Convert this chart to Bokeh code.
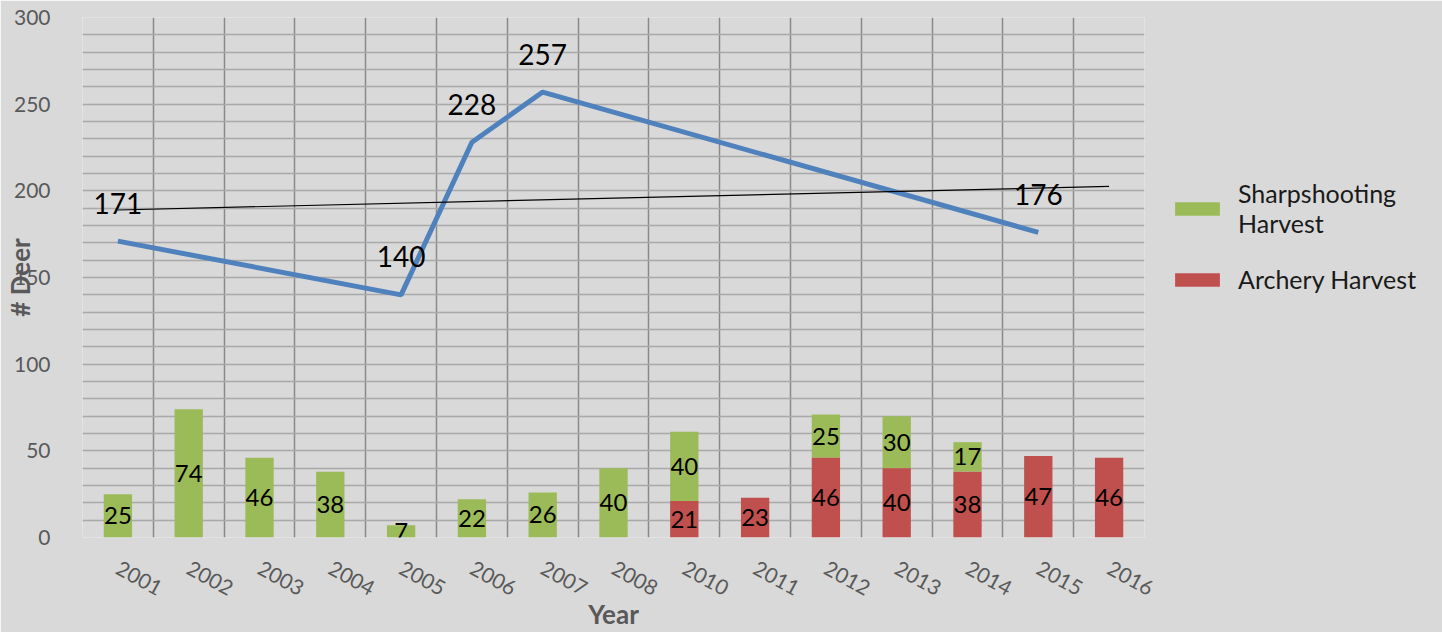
import numpy as np
from bokeh.plotting import figure
from bokeh.models import (ColumnDataSource, FixedTicker, Legend, LegendItem, LabelSet, Range1d)
from bokeh.core.properties import value
from bokeh.embed import file_html
from bokeh.resources import INLINE

# ---- data ----
years = ["2001", "2002", "2003", "2004", "2005", "2006", "2007", "2008",
         "2010", "2011", "2012", "2013", "2014", "2015", "2016"]
sharpshooting = [25, 74, 46, 38, 7, 22, 26, 40, 40, 0, 25, 30, 17, 0, 0]
archery = [0, 0, 0, 0, 0, 0, 0, 0, 21, 23, 46, 40, 38, 47, 46]
pop_years = ["2001", "2005", "2006", "2007", "2015"]
population = [171, 140, 228, 257, 176]
y_ticks = [0, 50, 100, 150, 200, 250, 300]

FONT = "Lato"
GREEN = "#9bbb59"
RED = "#c0504d"
BLUE = "#4f81bd"
BG = "#d9d9d9"
AXIS_TXT = "#595959"

n = len(years)
xc = [i + 0.5 for i in range(n)]
sharp_top = [a + s for a, s in zip(archery, sharpshooting)]

bars = ColumnDataSource(dict(x=xc, arch=archery, sharp_bottom=archery, sharp_top=sharp_top))

p = figure(frame_width=1062, frame_height=520,
           x_range=Range1d(0, n), y_range=Range1d(0, 300),
           output_backend="svg", toolbar_location=None,
           background_fill_color=BG, border_fill_color=BG,
           min_border_left=75, min_border_top=17, min_border_bottom=0, min_border_right=0,
           outline_line_color=None)

r_sharp = p.vbar(x="x", bottom="sharp_bottom", top="sharp_top", width=0.4, source=bars,
                 fill_color=GREEN, line_color=None)
r_arch = p.vbar(x="x", bottom=0, top="arch", width=0.4, source=bars,
                fill_color=RED, line_color=None)

# bar value labels (only non-zero segments)
s_lab = ColumnDataSource(dict(
    x=[x for x, s in zip(xc, sharpshooting) if s],
    y=[a + s / 2 for a, s in zip(archery, sharpshooting) if s],
    t=[str(s) for s in sharpshooting if s]))
a_lab = ColumnDataSource(dict(
    x=[x for x, a in zip(xc, archery) if a],
    y=[a / 2 for a in archery if a],
    t=[str(a) for a in archery if a]))
for src in (s_lab, a_lab):
    p.add_layout(LabelSet(x="x", y="y", text="t", source=src, text_align="center",
                          text_baseline="middle", text_font=value(FONT),
                          text_font_size="24px", text_color="#000000"))

# population line
px = [xc[years.index(y)] for y in pop_years]
p.line(px, population, line_width=5, line_color=BLUE)
pop_src = ColumnDataSource(dict(x=px, y=population, t=[str(v) for v in population]))
p.add_layout(LabelSet(x="x", y="y", text="t", source=pop_src, y_offset=38,
                      text_align="center", text_baseline="middle", text_font=value(FONT),
                      text_font_size="28px", text_color="#000000"))

# linear trend line over population points
idx = np.array([years.index(y) for y in pop_years], dtype=float)
slope, intercept = np.polyfit(idx, np.array(population, dtype=float), 1)
tx = [xc[0], xc[-1]]
ty = [intercept + slope * 0, intercept + slope * (n - 1)]
p.line(tx, ty, line_width=1.2, line_color="#000000")

# grids
p.xgrid.ticker = FixedTicker(ticks=list(range(n + 1)))
p.xgrid.grid_line_color = "#8a8a8a"
p.xgrid.grid_line_width = 1.5
p.ygrid.ticker = FixedTicker(ticks=list(range(10, 301, 10)))
p.ygrid.grid_line_color = "#a9a9a9"
p.ygrid.grid_line_width = 1.3

# axes
p.yaxis.ticker = FixedTicker(ticks=y_ticks)
p.yaxis.axis_line_color = None
p.yaxis.major_tick_line_color = None
p.yaxis.minor_tick_line_color = None
p.yaxis.major_label_text_font = FONT
p.yaxis.major_label_text_font_size = "21px"
p.yaxis.major_label_text_color = AXIS_TXT
p.yaxis.major_label_standoff = 26
p.yaxis.axis_label = "# Deer"
p.yaxis.axis_label_text_font = FONT
p.yaxis.axis_label_text_font_size = "26px"
p.yaxis.axis_label_text_font_style = "bold"
p.yaxis.axis_label_text_color = AXIS_TXT
p.yaxis.axis_label_standoff = -25

p.xaxis.ticker = FixedTicker(ticks=xc)
p.xaxis.major_label_overrides = {x: y for x, y in zip(xc, years)}
p.xaxis.axis_line_color = None
p.xaxis.major_tick_line_color = None
p.xaxis.minor_tick_line_color = None
p.xaxis.major_label_orientation = -0.5
p.xaxis.major_label_text_font = FONT
p.xaxis.major_label_text_font_size = "21px"
p.xaxis.major_label_text_color = AXIS_TXT
p.xaxis.major_label_standoff = 23
p.xaxis.axis_label = "Year"
p.xaxis.axis_label_text_font = FONT
p.xaxis.axis_label_text_font_size = "26px"
p.xaxis.axis_label_text_font_style = "bold"
p.xaxis.axis_label_text_color = AXIS_TXT
p.xaxis.axis_label_standoff = -8

legend = Legend(items=[LegendItem(label="Sharpshooting\nHarvest", renderers=[r_sharp]),
                       LegendItem(label="Archery Harvest", renderers=[r_arch])],
                location=(25, 243), orientation="vertical",
                glyph_width=56, glyph_height=17, label_standoff=13, spacing=26,
                padding=0, margin=0, border_line_color=None, background_fill_alpha=0,
                label_text_font=FONT, label_text_font_size="25px",
                label_text_line_height=1.4, label_text_color="#1a1a1a")
p.add_layout(legend, "right")

open("out.html", "w").write(file_html(p, INLINE))
